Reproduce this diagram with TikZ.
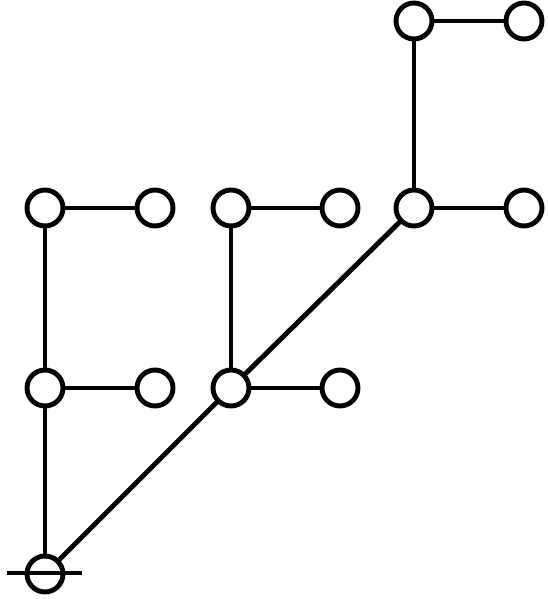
\documentclass[tikz,border=0pt]{standalone}
\usepackage{tkz-graph}
\usetikzlibrary{arrows}
\usetikzlibrary{shapes}

\begin{document}
\begin{tikzpicture}[x = 0.02cm, y = 0.02cm]
	\useasboundingbox (0,0) rectangle (548,599);
	\tikzstyle{VertexStyle} = []
	\tikzstyle{EdgeStyle} = [line width = 2.8pt]
	\tikzstyle{unlabeledStyle}=[shape = circle, minimum size = 0.72cm, inner sep = 0pt, line width = 2.8pt, draw, fill = white]
	\Vertex[style = unlabeledStyle, x = 45, y = 25, L = {\mbox{}}]{r}
	\Vertex[style = unlabeledStyle, x = 45, y = 211, L = {\mbox{}}]{a1}
	\Vertex[style = unlabeledStyle, x = 155, y = 211, L = {\mbox{}}]{a1r}
	\Vertex[style = unlabeledStyle, x = 45, y = 391, L = {\mbox{}}]{a2}
	\Vertex[style = unlabeledStyle, x = 155, y = 391, L = {\mbox{}}]{a2r}
	\Vertex[style = unlabeledStyle, x = 231, y = 211, L = {\mbox{}}]{b1}
	\Vertex[style = unlabeledStyle, x = 340, y = 211, L = {\mbox{}}]{b1r}
	\Vertex[style = unlabeledStyle, x = 231, y = 391, L = {\mbox{}}]{b2}
	\Vertex[style = unlabeledStyle, x = 340, y = 391, L = {\mbox{}}]{b2r}
	\Vertex[style = unlabeledStyle, x = 414, y = 391, L = {\mbox{}}]{c1}
	\Vertex[style = unlabeledStyle, x = 524, y = 391, L = {\mbox{}}]{c1r}
	\Vertex[style = unlabeledStyle, x = 414, y = 578, L = {\mbox{}}]{c2}
	\Vertex[style = unlabeledStyle, x = 524, y = 578, L = {\mbox{}}]{c2r}
	\Edge(r)(a1)
	\Edge(a1)(a1r)
	\Edge(a1)(a2)
	\Edge(a2)(a2r)
	\Edge(r)(b1)
	\Edge(b1)(b1r)
	\Edge(b1)(b2)
	\Edge(b2)(b2r)
	\Edge(b1)(c1)
	\Edge(c1)(c1r)
	\Edge(c1)(c2)
	\Edge(c2)(c2r)
	% root mark
	\coordinate (rl) at (7,26);
	\coordinate (rr) at (82,26);
	\draw[line width = 2.8pt] (rl) -- (rr);
\end{tikzpicture}
\end{document}
